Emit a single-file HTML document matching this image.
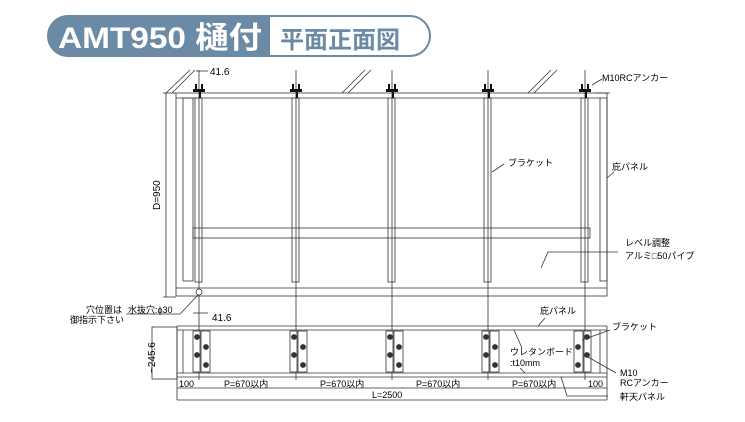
<!DOCTYPE html>
<html><head><meta charset="utf-8"><style>
body{margin:0;background:#fff;width:745px;height:417px;overflow:hidden;font-family:"Liberation Sans","Noto Sans CJK JP",sans-serif}
</style></head><body>
<svg width="745" height="417" viewBox="0 0 745 417" xmlns="http://www.w3.org/2000/svg" font-family="Liberation Sans, Noto Sans CJK JP, sans-serif">
<!-- title -->
<path d="M68,16 H410 A20,20 0 0 1 410,56 H68 A20,20 0 0 1 68,16 Z" fill="#fff" stroke="#6b8aa6" stroke-width="2"/>
<path d="M68,16 H270 V56 H68 A20,20 0 0 1 68,16 Z" fill="#6b8aa6"/>
<text x="58" y="48" font-size="30" font-weight="bold" fill="#fff" textLength="204" lengthAdjust="spacingAndGlyphs">AMT950 樋付</text>
<text x="280" y="48" font-size="24" font-weight="bold" fill="#6b8aa6" textLength="120" lengthAdjust="spacingAndGlyphs">平面正面図</text>

<g stroke="#333" fill="none" stroke-width="0.8">
<line x1="166" y1="93" x2="166" y2="297"/>
<line x1="163" y1="297" x2="176" y2="297"/>
<line x1="163" y1="93" x2="176" y2="93"/>
<rect x="176" y="93" width="431" height="203"/>
<line x1="176" y1="98" x2="600" y2="98"/>
<rect x="183" y="98" width="10" height="183"/>
<rect x="600" y="98" width="7" height="183"/>
<line x1="176" y1="288" x2="607" y2="288"/>
<rect x="193" y="228" width="397" height="10"/>
<line x1="166" y1="93" x2="190" y2="70"/><line x1="172" y1="93" x2="195" y2="70"/>
<line x1="342" y1="93" x2="365" y2="70"/><line x1="348" y1="93" x2="371" y2="70"/>
<line x1="528" y1="93" x2="551" y2="70"/><line x1="534" y1="93" x2="557" y2="70"/>
<line x1="595" y1="93" x2="610" y2="93"/>
</g>
<g stroke="#333" stroke-width="0.8" fill="none">
<g id="br">
<rect x="195" y="98" width="7" height="184"/>
<line x1="199" y1="70" x2="199" y2="380"/>
</g>
<use href="#br" x="97"/><use href="#br" x="193"/><use href="#br" x="289"/><use href="#br" x="386"/>
</g>
<g fill="#111">
<g id="bt"><rect x="193" y="89" width="12" height="3"/><rect x="195" y="84" width="2" height="8"/><rect x="201" y="84" width="2" height="8"/><rect x="199" y="92" width="2" height="6"/></g>
<use href="#bt" x="97"/><use href="#bt" x="193"/><use href="#bt" x="289"/><use href="#bt" x="386"/>
</g>
<line x1="196" y1="71" x2="208" y2="71" stroke="#333" stroke-width="0.8"/>
<text x="210" y="75" font-size="10">41.6</text>
<text x="160" y="210" font-size="10" transform="rotate(-90 160 210)">D=950</text>
<circle cx="199" cy="292" r="3" fill="#fff" stroke="#333" stroke-width="0.8"/>
<line x1="180" y1="314" x2="198" y2="295" stroke="#333" stroke-width="0.8"/>
<line x1="126" y1="314" x2="180" y2="314" stroke="#333" stroke-width="0.8"/>
<text x="86" y="313" font-size="9">穴位置は</text>
<text x="128" y="313" font-size="9">水抜穴:ϕ30</text>
<text x="70" y="323" font-size="9">御指示下さい</text>

<line x1="592" y1="85" x2="602" y2="79" stroke="#333" stroke-width="0.8"/>
<text x="602" y="81" font-size="9">M10RCアンカー</text>
<line x1="492" y1="172" x2="504" y2="164" stroke="#333" stroke-width="0.8"/>
<text x="508" y="166" font-size="9">ブラケット</text>
<line x1="607" y1="178" x2="614" y2="172" stroke="#333" stroke-width="0.8"/>
<text x="612" y="170" font-size="9">庇パネル</text>
<polyline points="541,268 548,252 618,252" fill="none" stroke="#333" stroke-width="0.8"/>
<text x="625" y="246" font-size="9">レベル調整</text>
<text x="625" y="259" font-size="9">アルミ□50パイプ</text>

<g stroke="#333" fill="none" stroke-width="0.8">
<rect x="152" y="327" width="25" height="52"/>
<line x1="177" y1="326" x2="607" y2="326"/>
<line x1="177" y1="330" x2="607" y2="330"/>
<line x1="177" y1="373" x2="607" y2="373"/>
<line x1="177" y1="377" x2="607" y2="377"/>
<line x1="177" y1="326" x2="177" y2="400"/>
<line x1="607" y1="326" x2="607" y2="400"/>
<line x1="183" y1="330" x2="183" y2="373"/>
<line x1="600" y1="330" x2="600" y2="373"/>
<line x1="177" y1="388" x2="607" y2="388"/>
<line x1="177" y1="400" x2="607" y2="400"/>
<line x1="193" y1="313" x2="208" y2="313"/>
</g>
<g stroke="#333" stroke-width="0.8" fill="#fff">
<g id="eb"><rect x="193" y="331" width="7" height="41"/><rect x="201" y="331" width="9" height="41"/>
<circle cx="197" cy="337" r="2.5" fill="#333"/><circle cx="197" cy="355" r="2.5" fill="#333"/>
<circle cx="206" cy="347" r="2.5" fill="#333"/><circle cx="206" cy="365" r="2.5" fill="#333"/></g>
<use href="#eb" x="97"/><use href="#eb" x="193"/><use href="#eb" x="289"/>
<g transform="translate(784,0) scale(-1,1)"><use href="#eb" x="0"/></g>
</g>
<text x="212" y="321" font-size="10">41.6</text>
<text x="155" y="373" font-size="10" transform="rotate(-90 155 373)">~245.6</text>
<text x="179" y="387" font-size="9">100</text>
<text x="224" y="387" font-size="9">P=670以内</text>
<text x="320" y="387" font-size="9">P=670以内</text>
<text x="416" y="387" font-size="9">P=670以内</text>
<text x="512" y="387" font-size="9">P=670以内</text>
<text x="588" y="387" font-size="9">100</text>
<text x="372" y="398" font-size="9">L=2500</text>
<line x1="545" y1="318" x2="538" y2="326" stroke="#333" stroke-width="0.8"/>
<text x="540" y="314" font-size="9">庇パネル</text>
<line x1="582" y1="340" x2="610" y2="330" stroke="#333" stroke-width="0.8"/>
<text x="612" y="330" font-size="9">ブラケット</text>
<line x1="588" y1="357" x2="616" y2="373" stroke="#333" stroke-width="0.8"/>
<text x="620" y="376" font-size="9">M10</text>
<text x="620" y="386" font-size="9">RCアンカー</text>
<polyline points="561,377 567,396 608,396" fill="none" stroke="#333" stroke-width="0.8"/>
<text x="620" y="400" font-size="9">軒天パネル</text>
<line x1="514" y1="330" x2="522" y2="348" stroke="#333" stroke-width="0.8"/>
<text x="510" y="355" font-size="9">ウレタンボード</text>
<text x="510" y="366" font-size="9">:t10mm</text>
<line x1="520" y1="368" x2="525" y2="373" stroke="#333" stroke-width="0.8"/>
</svg>
</body></html>
